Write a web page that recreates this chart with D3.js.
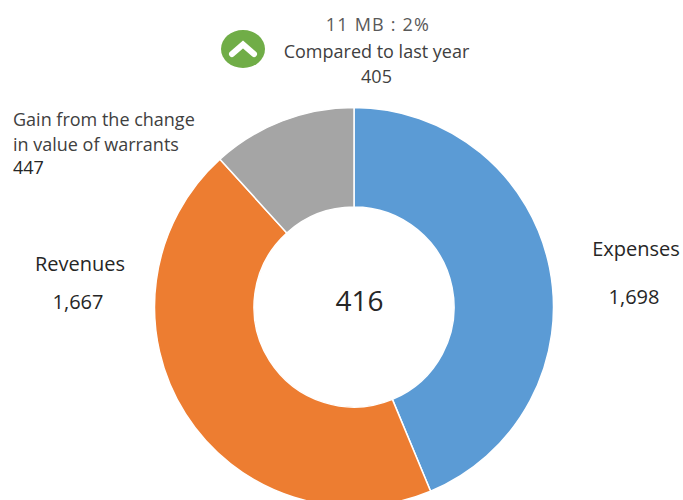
<!DOCTYPE html>
<html>
<head>
<meta charset="utf-8">
<script src="https://cdnjs.cloudflare.com/ajax/libs/d3/7.8.5/d3.min.js"></script>
<style>
body { margin: 0; background: #fff; }
text { font-family: "Open Sans", sans-serif; fill: #262626; }
</style>
</head>
<body>
<svg></svg>
<script>
const categories = ['Expenses', 'Revenues', 'Gain from the change in value of warrants'];
// slice sizes: the blue slice is the smaller of the two big ones
const sliceValues = [1667, 1698, 447];
// numbers as printed next to each slice
const labelValues = ['1,698', '1,667', '447'];
const colors = ['#5b9bd5', '#ed7d31', '#a5a5a5'];
const totalLabel = '416';
const topLines = ['11 MB : 2%', 'Compared to last year', '405'];

const width = 683;
const height = 500;

let svg = d3.select('svg').attr('width', width).attr('height', height);

let pie = d3.pie().sort(null);
let arc = d3.arc().innerRadius(100).outerRadius(199.5);

svg.append('g')
    .attr('transform', 'translate(354,307)')
    .selectAll('path')
    .data(pie(sliceValues))
    .enter()
    .append('path')
    .attr('d', arc)
    .attr('fill', (d, i) => colors[i])
    .attr('stroke', '#fff')
    .attr('stroke-width', 1.5);

let label = (x, y, txt, size, anchor, color) => {
    return svg.append('text')
        .attr('x', x)
        .attr('y', y)
        .attr('text-anchor', anchor || 'middle')
        .style('font-size', size + 'px')
        .style('fill', color || '#262626')
        .text(txt);
};

label(359.5, 311, totalLabel, 28);

label(378, 31, topLines[0], 18, 'middle', '#595959').style('letter-spacing', '1.2px');
label(376.5, 58, topLines[1], 18, 'middle', '#404040');
label(376.5, 83, topLines[2], 18, 'middle', '#404040');

label(13, 126, 'Gain from the change', 18, 'start', '#404040');
label(13, 151, 'in value of warrants', 18, 'start', '#404040');
label(13, 174, labelValues[2], 18, 'start');

label(80, 271, categories[1], 20);
label(78, 309, labelValues[1], 20);

label(636, 256, categories[0], 20);
label(634, 304, labelValues[0], 20);

// green badge with chevron
svg.append('ellipse')
    .attr('cx', 243)
    .attr('cy', 49)
    .attr('rx', 22)
    .attr('ry', 19)
    .attr('fill', '#70ad47');
svg.append('path')
    .attr('d', d3.line()([[232, 54], [243, 44.5], [254, 54]]))
    .attr('fill', 'none')
    .attr('stroke', '#fff')
    .attr('stroke-width', 6)
    .attr('stroke-linecap', 'round');
</script>
</body>
</html>
